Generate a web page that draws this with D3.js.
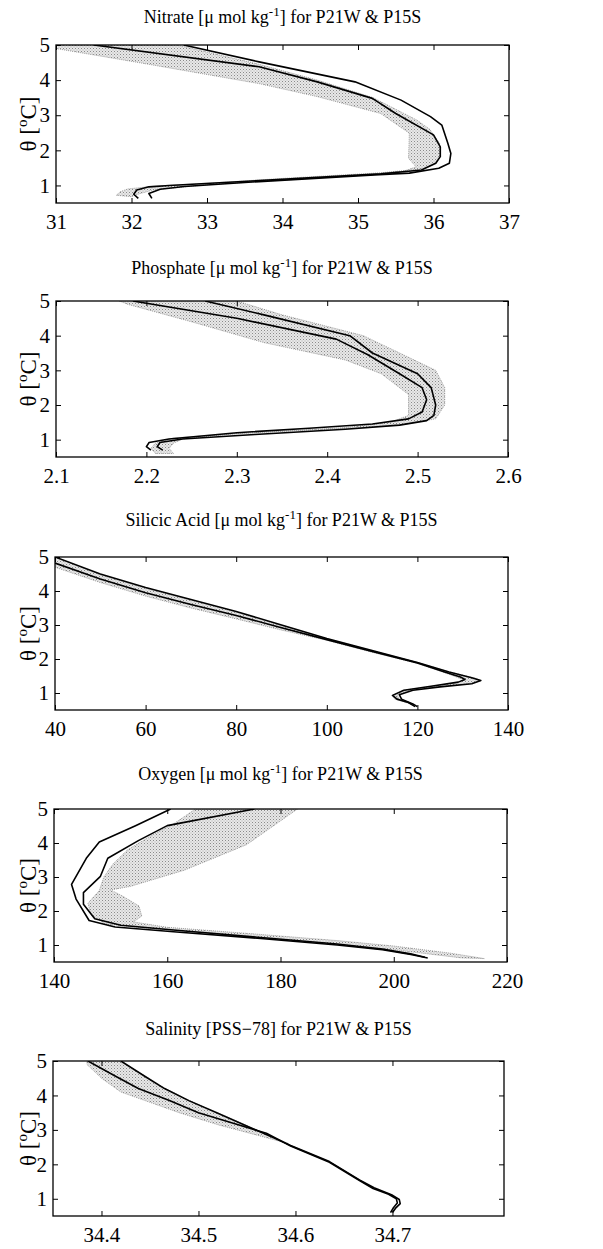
<!DOCTYPE html>
<html>
<head>
<meta charset="utf-8">
<script src="https://cdn.jsdelivr.net/npm/d3@7"></script>
<style>
  body { margin: 0; background: #fff; }
  svg text { font-family: "Liberation Serif", "Times New Roman", serif; fill: #000; }
</style>
</head>
<body>
<div id="chart"></div>
<script>
// profiles are [value, theta] pairs, bands are closed outlines
const thetaTicks = [1, 2, 3, 4, 5];

const nitrateTicks = [31, 32, 33, 34, 35, 36, 37];
const nitrateA = [[32.69,5.0],[33.69,4.52],[34.96,3.95],[35.57,3.43],[35.96,2.96],[36.11,2.72],[36.19,2.2],[36.23,1.91],[36.21,1.63],[36.07,1.49],[35.68,1.35],[35.22,1.30],[33.69,1.11],[32.7,0.97],[32.38,0.89],[32.23,0.77],[32.27,0.63]];
const nitrateB = [[31.5,5.0],[33.69,4.38],[34.46,3.95],[35.19,3.48],[35.5,3.05],[36.0,2.44],[36.09,2.1],[36.09,1.82],[36.03,1.63],[35.84,1.44],[35.3,1.33],[33.69,1.14],[32.5,1.0],[32.23,0.96],[32.07,0.87],[32.03,0.75],[32.09,0.63]];
const nitrateBand = [[31.0,5.0],[32.6,5.0],[33.69,4.45],[34.46,4.0],[35.2,3.5],[35.78,2.86],[35.95,2.6],[36.08,2.2],[36.08,1.8],[36.0,1.6],[35.85,1.47],[35.3,1.36],[34.0,1.2],[33.0,1.06],[32.3,0.98],[31.95,0.9],[31.85,0.82],[31.8,0.72],[32.0,0.68],[32.1,0.76],[32.3,0.88],[33.0,1.02],[34.0,1.15],[35.0,1.28],[35.6,1.4],[35.77,1.53],[35.67,1.77],[35.68,2.49],[35.3,3.05],[34.46,3.53],[33.69,3.9],[32.15,4.48],[31.0,4.9]];

const phosphateTicks = [2.1, 2.2, 2.3, 2.4, 2.5, 2.6];
const phosphateA = [[2.265,5.0],[2.33,4.6],[2.425,4.0],[2.45,3.5],[2.5,2.9],[2.515,2.5],[2.52,2.0],[2.518,1.7],[2.51,1.55],[2.48,1.42],[2.42,1.3],[2.32,1.15],[2.24,1.02],[2.215,0.92],[2.212,0.8],[2.218,0.7]];
const phosphateB = [[2.185,5.0],[2.3,4.5],[2.41,3.9],[2.445,3.45],[2.48,2.9],[2.505,2.5],[2.51,2.15],[2.505,1.8],[2.49,1.6],[2.45,1.45],[2.38,1.33],[2.3,1.2],[2.225,1.02],[2.203,0.92],[2.2,0.8],[2.205,0.7]];
const phosphateBand = [[2.17,5.0],[2.3,5.0],[2.35,4.6],[2.44,4.0],[2.48,3.5],[2.52,3.0],[2.53,2.5],[2.53,2.0],[2.52,1.6],[2.48,1.42],[2.42,1.32],[2.3,1.18],[2.24,1.02],[2.23,0.9],[2.225,0.75],[2.23,0.6],[2.21,0.6],[2.205,0.75],[2.21,0.9],[2.23,1.05],[2.32,1.2],[2.42,1.35],[2.47,1.5],[2.49,1.7],[2.49,2.3],[2.46,2.9],[2.42,3.3],[2.33,3.8],[2.25,4.4],[2.18,4.9]];

const silicicTicks = [40, 60, 80, 100, 120, 140];
const silicicA = [[40,5.0],[50,4.5],[60,4.1],[70,3.75],[80,3.4],[90,3.0],[100,2.6],[110,2.25],[120,1.9],[127,1.62],[132,1.45],[134,1.37],[132,1.27],[125,1.18],[119,1.08],[116,0.95],[116.5,0.82],[119,0.68],[120,0.6]];
const silicicB = [[40,4.82],[50,4.35],[60,3.95],[70,3.6],[80,3.28],[90,2.92],[100,2.57],[110,2.22],[120,1.88],[126,1.62],[129.5,1.47],[130.5,1.4],[129,1.32],[123,1.2],[117,1.08],[114.5,0.93],[115.5,0.82],[118,0.72],[119.5,0.6]];
const silicicBand = [[40,5.0],[50,4.48],[60,4.08],[70,3.73],[80,3.38],[90,2.98],[100,2.6],[110,2.25],[120,1.9],[127,1.62],[133,1.43],[134,1.36],[131.5,1.27],[124,1.18],[118,1.07],[115.5,0.94],[116,0.81],[118.5,0.68],[118,0.7],[115,0.82],[114.5,0.93],[117,1.08],[123,1.19],[129,1.31],[130,1.4],[126,1.6],[120,1.87],[110,2.2],[100,2.55],[90,2.85],[80,3.18],[70,3.5],[60,3.85],[50,4.25],[40,4.7]];

const oxygenTicks = [140, 160, 180, 200, 220];
const oxygenA = [[160.6,5.0],[154.4,4.51],[148.0,4.03],[145.7,3.55],[143.1,2.78],[143.9,2.35],[146.2,1.72],[150.8,1.53],[161.1,1.39],[176.5,1.19],[190,1.0],[198,0.86],[203,0.72],[206,0.62]];
const oxygenB = [[175.4,5.0],[160.0,4.51],[154.9,4.07],[149.5,3.55],[148.2,3.02],[145.2,2.54],[145.2,2.2],[147.2,1.77],[151.8,1.58],[161.1,1.44],[176.5,1.22],[190,1.03],[198,0.88],[203,0.74],[205.5,0.64]];
const oxygenBand = [[167,5.0],[183,5.0],[174,3.95],[163,3.2],[153.4,2.72],[150,2.62],[152,2.45],[155,2.15],[155.5,1.85],[154,1.68],[160,1.52],[175,1.33],[190,1.13],[200,0.97],[210,0.76],[216,0.6],[212,0.62],[200,0.86],[185,1.1],[170,1.32],[158,1.47],[149,1.62],[146.5,1.9],[146,2.23],[148,2.6],[148.8,3.0],[150.5,3.4],[153,3.8],[157,4.2],[161,4.55],[165,5.0]];

const salinityTicks = [34.4, 34.5, 34.6, 34.7];
const salinityA = [[34.42,5.0],[34.445,4.55],[34.465,4.2],[34.49,3.85],[34.52,3.48],[34.555,3.05],[34.595,2.55],[34.635,2.08],[34.666,1.55],[34.681,1.32],[34.699,1.12],[34.707,0.98],[34.708,0.86],[34.703,0.72],[34.7,0.6]];
const salinityB = [[34.386,5.0],[34.415,4.55],[34.438,4.2],[34.47,3.85],[34.5,3.5],[34.535,3.2],[34.57,2.9],[34.595,2.53],[34.635,2.06],[34.666,1.53],[34.68,1.3],[34.696,1.13],[34.704,1.0],[34.705,0.88],[34.701,0.74],[34.698,0.6]];
const salinityBand = [[34.385,5.0],[34.42,5.0],[34.445,4.56],[34.466,4.2],[34.491,3.85],[34.521,3.48],[34.556,3.05],[34.593,2.6],[34.56,2.85],[34.52,3.15],[34.48,3.5],[34.445,3.85],[34.42,4.1],[34.40,4.5],[34.385,4.9]];

const panels = [
  { name: "Nitrate", unit: "mol", ticks: nitrateTicks, domain: [31, 37], a: nitrateA, b: nitrateB, band: nitrateBand, top: 45, bottom: 203, left: 56, right: 509, titleY: 23 },
  { name: "Phosphate", unit: "mol", ticks: phosphateTicks, domain: [2.1, 2.6], a: phosphateA, b: phosphateB, band: phosphateBand, top: 301, bottom: 457, left: 56, right: 508, titleY: 274 },
  { name: "Silicic Acid", unit: "mol", ticks: silicicTicks, domain: [40, 140], a: silicicA, b: silicicB, band: silicicBand, top: 557, bottom: 710, left: 55, right: 508, titleY: 526 },
  { name: "Oxygen", unit: "mol", ticks: oxygenTicks, domain: [140, 220], a: oxygenA, b: oxygenB, band: oxygenBand, top: 809, bottom: 962, left: 54, right: 507, titleY: 780 },
  { name: "Salinity", unit: "pss", ticks: salinityTicks, domain: [34.35, 34.815], a: salinityA, b: salinityB, band: salinityBand, top: 1061, bottom: 1216, left: 53, right: 504, titleY: 1035 }
];

const svg = d3.select("#chart")
  .append("svg")
    .attr("width", 603)
    .attr("height", 1249);

// stipple used for the shaded range
const defs = svg.append("defs");
const pat = defs.append("pattern")
  .attr("id", "stipple")
  .attr("width", 3)
  .attr("height", 3)
  .attr("patternUnits", "userSpaceOnUse");
pat.append("rect").attr("width", 3).attr("height", 3).attr("fill", "#e8e8e8");
pat.append("rect").attr("x", 0).attr("y", 0).attr("width", 1).attr("height", 1).attr("fill", "#8a8a8a");
pat.append("rect").attr("x", 1.5).attr("y", 1.5).attr("width", 1).attr("height", 1).attr("fill", "#acacac");

panels.forEach((p, i) => {
  const x = d3.scaleLinear().domain(p.domain).range([p.left, p.right]);
  const y = d3.scaleLinear().domain([0.5, 5]).range([p.bottom, p.top]);
  const g = svg.append("g");

  const clipId = "clip" + i;
  defs.append("clipPath").attr("id", clipId)
    .append("rect")
      .attr("x", p.left).attr("y", p.top)
      .attr("width", p.right - p.left).attr("height", p.bottom - p.top);

  const line = d3.line()
    .x(d => x(d[0]))
    .y(d => y(d[1]));

  const plot = g.append("g").attr("clip-path", `url(#${clipId})`);

  plot.append("path")
    .datum(p.band)
    .attr("d", d => line(d) + "Z")
    .attr("fill", "url(#stipple)")
    .attr("stroke", "#8a8a8a")
    .attr("stroke-width", 0.8)
    .attr("stroke-dasharray", "1,1");

  [p.a, p.b].forEach(prof => {
    plot.append("path")
      .datum(prof)
      .attr("d", line)
      .attr("fill", "none")
      .attr("stroke", "#000")
      .attr("stroke-width", 1.6)
      .attr("stroke-linejoin", "round");
  });

  // MATLAB style box with inward ticks
  const fmt = d => String(+d.toFixed(2));
  g.append("g")
    .attr("transform", `translate(0,${p.bottom})`)
    .call(d3.axisBottom(x).tickValues(p.ticks).tickFormat(fmt).tickSizeInner(-5).tickSizeOuter(0).tickPadding(11))
    .call(a => a.select(".domain").remove())
    .call(a => a.selectAll(".tick text").style("font-size", "21px").attr("dy", "0.71em"));
  g.append("g")
    .attr("transform", `translate(0,${p.top})`)
    .call(d3.axisTop(x).tickValues(p.ticks).tickFormat("").tickSizeInner(-5).tickSizeOuter(0))
    .call(a => a.select(".domain").remove());
  g.append("g")
    .attr("transform", `translate(${p.left},0)`)
    .call(d3.axisLeft(y).tickValues(thetaTicks).tickFormat(d3.format("d")).tickSizeInner(-5).tickSizeOuter(0).tickPadding(6))
    .call(a => a.select(".domain").remove())
    .call(a => a.selectAll(".tick text").style("font-size", "21px"));
  g.append("g")
    .attr("transform", `translate(${p.right},0)`)
    .call(d3.axisRight(y).tickValues(thetaTicks).tickFormat("").tickSizeInner(-5).tickSizeOuter(0))
    .call(a => a.select(".domain").remove());
  g.selectAll(".tick line").attr("stroke", "#000").attr("stroke-width", 1);

  g.append("rect")
    .attr("x", p.left).attr("y", p.top)
    .attr("width", p.right - p.left).attr("height", p.bottom - p.top)
    .attr("fill", "none")
    .attr("stroke", "#000")
    .attr("stroke-width", 1.3);

  // title
  const t = g.append("text")
    .attr("x", (p.left + p.right) / 2)
    .attr("y", p.titleY)
    .attr("text-anchor", "middle")
    .style("font-size", "18px");
  if (p.unit === "mol") {
    t.append("tspan").text(p.name + " [\u03bc mol kg");
    t.append("tspan").attr("dy", -7).style("font-size", "13px").text("-1");
    t.append("tspan").attr("dy", 7).text("] for P21W & P15S");
  } else {
    t.append("tspan").text(p.name + " [PSS\u221278] for P21W & P15S");
  }

  // y label
  const yl = g.append("text")
    .attr("transform", `translate(36,${(p.top + p.bottom) / 2}) rotate(-90)`)
    .attr("text-anchor", "middle")
    .style("font-size", "23px");
  yl.append("tspan").text("\u03b8 [");
  yl.append("tspan").attr("dy", -9).style("font-size", "15px").text("o");
  yl.append("tspan").attr("dy", 9).text("C]");
});
</script>
</body>
</html>
